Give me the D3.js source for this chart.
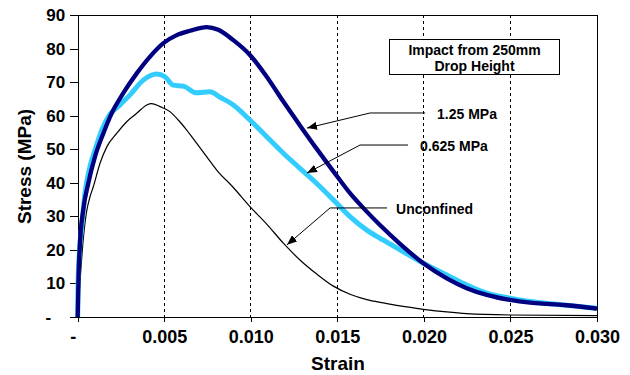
<!DOCTYPE html>
<html>
<head>
<meta charset="utf-8">
<script src="https://cdn.jsdelivr.net/npm/d3@7"></script>
<style>
  html, body { margin: 0; padding: 0; background: #fff; }
  svg { display: block; font-family: "Liberation Sans", Arial, sans-serif; font-weight: bold; }
</style>
</head>
<body>
<svg id="chart" width="630" height="375"></svg>
<script>
// ---- data ----
const strainTicks = [0, 0.005, 0.010, 0.015, 0.020, 0.025, 0.030];
const stressTicks = [0, 10, 20, 30, 40, 50, 60, 70, 80, 90];
const gridStrains = [0.005, 0.010, 0.015, 0.020, 0.025];

const strain125 = [0, 0.00005, 0.00013, 0.00032, 0.00061, 0.001, 0.00148, 0.00196, 0.00263, 0.00341, 0.00418, 0.00495, 0.00572, 0.00649, 0.00745, 0.00812, 0.00899, 0.00995, 0.01092, 0.01188, 0.01284, 0.01381, 0.01477, 0.01573, 0.0167, 0.01746, 0.01862, 0.01997, 0.02132, 0.02247, 0.02363, 0.02497, 0.02613, 0.0271, 0.02825, 0.030];
const stress125 = [0, 12, 22, 31.9, 39.8, 47.8, 54.7, 60.7, 66.7, 72.6, 77.6, 81.6, 84.0, 85.3, 86.4, 85.6, 82.5, 78.1, 71.6, 64.2, 57.1, 50.1, 43.4, 36.9, 31.4, 27.4, 21.8, 16.0, 11.5, 8.6, 6.6, 5.1, 4.3, 3.9, 3.5, 2.5];

const strain0625 = [0, 0.00002, 0.00008, 0.00023, 0.00042, 0.00071, 0.001, 0.00139, 0.00177, 0.00244, 0.00302, 0.00379, 0.00456, 0.00504, 0.00552, 0.0061, 0.00687, 0.00764, 0.00822, 0.00899, 0.00995, 0.01092, 0.01188, 0.01284, 0.01381, 0.01477, 0.01573, 0.0167, 0.01766, 0.01862, 0.01997, 0.02132, 0.02247, 0.02363, 0.02497, 0.02613, 0.0275, 0.030];
const stress0625 = [0, 10, 18, 26.9, 36.9, 44.8, 49.8, 55.7, 59.7, 63.2, 66.2, 70.6, 72.4, 71.6, 69.1, 68.8, 66.8, 67.1, 65.5, 63.2, 58.7, 53.7, 48.8, 44.3, 39.8, 34.9, 29.9, 25.9, 22.9, 20.0, 16.0, 12.5, 9.5, 7.1, 5.6, 4.6, 3.9, 2.6];

const strainUnc = [0, 0.0001, 0.0003, 0.0005, 0.00071, 0.0009, 0.00129, 0.00168, 0.00225, 0.00283, 0.00341, 0.00399, 0.00427, 0.00475, 0.00533, 0.00581, 0.0063, 0.00687, 0.00745, 0.00803, 0.00899, 0.00995, 0.01092, 0.01188, 0.01284, 0.01381, 0.01477, 0.01573, 0.0167, 0.01766, 0.01862, 0.01997, 0.02132, 0.02247, 0.02497, 0.030];
const stressUnc = [0, 8, 22, 31, 35.8, 38.8, 45.8, 50.7, 54.7, 58.2, 60.7, 63.2, 63.6, 62.7, 61.2, 58.7, 55.7, 51.8, 47.8, 43.8, 38.6, 32.9, 27.7, 22.0, 17.0, 12.8, 9.2, 6.8, 5.2, 4.2, 3.3, 2.3, 1.5, 1.0, 0.6, 0.4];

const seriesNames = ["Unconfined", "0.625 MPa", "1.25 MPa"];
const annoLabelStrain = [0.01839, 0.01978, 0.02076];
const annoLabelStress = [32.2, 51.0, 60.5];
const annoPath = [
  [[0.01787, 32.5], [0.01458, 32.5], [0.01209, 21.5]],
  [[0.01908, 51.25], [0.01631, 51.25], [0.01325, 42.9]],
  [[0.02007, 60.8], [0.01689, 60.8], [0.01325, 56.3]]
];
const titleLines = ["Impact from 250mm", "Drop Height"];

// ---- layout ----
const W = 630, H = 375;
const margin = { left: 77.7, top: 15, right: 33, bottom: 58 };
const iw = W - margin.left - margin.right;
const ih = H - margin.top - margin.bottom;

const svg = d3.select("#chart");
svg.append("rect").attr("width", W).attr("height", H).attr("fill", "#fff");
const g = svg.append("g").attr("transform", `translate(${margin.left},${margin.top})`);

const x = d3.scaleLinear().domain([0, 0.030]).range([0, iw]);
const y = d3.scaleLinear().domain([0, 90]).range([ih, 0]);

// grid lines
g.append("g").selectAll("line").data(gridStrains).join("line")
  .attr("x1", d => x(d)).attr("x2", d => x(d))
  .attr("y1", 0).attr("y2", ih)
  .attr("stroke", "#000").attr("stroke-width", 1)
  .attr("stroke-dasharray", "3,3")
  .attr("shape-rendering", "crispEdges");

// frame top/right
g.append("line").attr("x1", 0).attr("x2", iw).attr("y1", 0).attr("y2", 0)
  .attr("stroke", "#000").attr("shape-rendering", "crispEdges");
g.append("line").attr("x1", iw).attr("x2", iw).attr("y1", 0).attr("y2", ih)
  .attr("stroke", "#000").attr("shape-rendering", "crispEdges");

// axes
const xAxis = d3.axisBottom(x).tickValues(strainTicks).tickSize(5).tickPadding(8)
  .tickFormat(d => d === 0 ? "-" : d3.format(".3f")(d));
const gx = g.append("g").attr("transform", `translate(0,${ih})`).call(xAxis);
gx.selectAll("text").attr("font-size", 18).attr("font-weight", "bold").attr("fill", "#000")
  .attr("font-family", "'Liberation Sans', Arial, sans-serif")
  .attr("dx", d => d === 0 ? -5 : 0);

const yAxis = d3.axisLeft(y).tickValues(stressTicks).tickSize(8).tickPadding(4.5)
  .tickFormat(d => d === 0 ? "-" : d);
const gy = g.append("g").call(yAxis);
gy.selectAll("text").attr("font-size", 17).attr("font-weight", "bold").attr("fill", "#000")
  .attr("font-family", "'Liberation Sans', Arial, sans-serif")
  .attr("dx", d => d === 0 ? -14 : 0);
[gx, gy].forEach(a => {
  a.selectAll("path, line").attr("stroke", "#000").attr("shape-rendering", "crispEdges");
});

// axis titles
svg.append("text").attr("x", 338).attr("y", 370).attr("text-anchor", "middle")
  .attr("font-size", 19).text("Strain");
svg.append("text").attr("transform", "translate(31,166.5) rotate(-90)")
  .attr("text-anchor", "middle").attr("font-size", 19).text("Stress (MPa)");

// series lines
const line = d3.line().x(d => x(d[0])).y(d => y(d[1])).curve(d3.curveMonotoneX);
const zip = (a, b) => a.map((v, i) => [v, b[i]]);
const plot = g.append("g");
plot.append("path").datum(zip(strainUnc, stressUnc)).attr("d", line)
  .attr("fill", "none").attr("stroke", "#000").attr("stroke-width", 1.2);
plot.append("path").datum(zip(strain0625, stress0625)).attr("d", line)
  .attr("fill", "none").attr("stroke", "#33CCFF").attr("stroke-width", 5)
  .attr("stroke-linejoin", "round");
plot.append("path").datum(zip(strain125, stress125)).attr("d", line)
  .attr("fill", "none").attr("stroke", "#000080").attr("stroke-width", 4.3)
  .attr("stroke-linejoin", "round");

// arrow marker
svg.append("defs").append("marker")
  .attr("id", "arrow").attr("viewBox", "0 0 10 8")
  .attr("refX", 10).attr("refY", 4)
  .attr("markerWidth", 10).attr("markerHeight", 8)
  .attr("markerUnits", "userSpaceOnUse")
  .attr("orient", "auto")
  .append("path").attr("d", "M0,0 L10,4 L0,8 Z").attr("fill", "#000");

// annotations
const anno = g.append("g");
annoPath.forEach((pts, i) => {
  anno.append("path")
    .attr("d", d3.line().x(d => x(d[0])).y(d => y(d[1]))(pts))
    .attr("fill", "none").attr("stroke", "#000").attr("stroke-width", 1)
    .attr("marker-end", "url(#arrow)");
  anno.append("text")
    .attr("x", x(annoLabelStrain[i])).attr("y", y(annoLabelStress[i]))
    .attr("dy", "0.35em").attr("font-size", 14).text(seriesNames[i]);
});

// title box
const boxX0 = 0.01804, boxX1 = 0.02781, boxY0 = 82.8, boxY1 = 72.4;
g.append("rect")
  .attr("x", x(boxX0)).attr("y", y(boxY0))
  .attr("width", x(boxX1) - x(boxX0)).attr("height", y(boxY1) - y(boxY0))
  .attr("fill", "#fff").attr("stroke", "#000").attr("stroke-width", 1)
  .attr("shape-rendering", "crispEdges");
titleLines.forEach((t, i) => {
  g.append("text")
    .attr("x", (x(boxX0) + x(boxX1)) / 2)
    .attr("y", y(boxY0) + 15.5 + i * 16.4)
    .attr("text-anchor", "middle").attr("font-size", 14).text(t);
});
</script>
</body>
</html>
